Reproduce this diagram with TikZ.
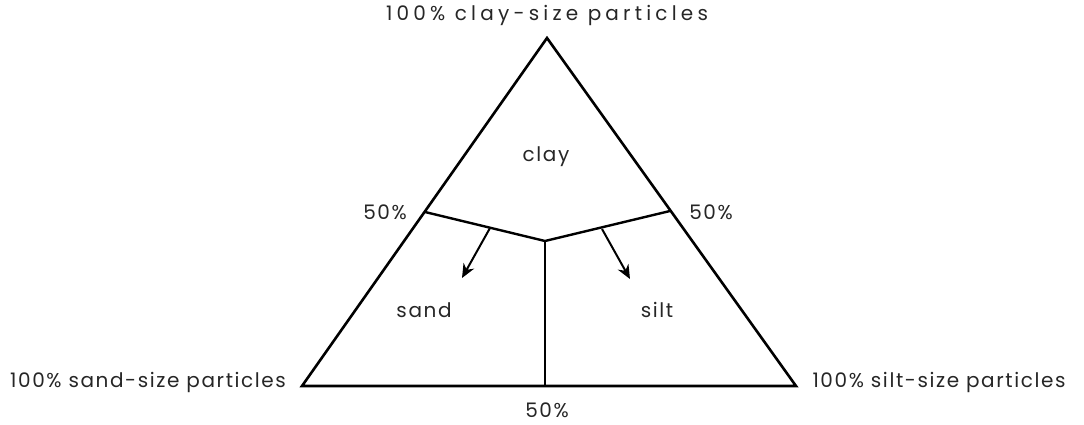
\documentclass[tikz,border=0pt]{standalone}
\usepackage{fontspec}
\setmainfont{Poppins}[LetterSpace=8]
\newfontfamily\widefont{Poppins}[LetterSpace=21]
\usetikzlibrary{arrows.meta}
\begin{document}
\begin{tikzpicture}[x=1pt,y=-1pt,
  edge/.style={line width=2.6pt, line join=miter},
  inner/.style={line width=2.4pt},
  arr/.style={line width=2pt,-{Stealth[length=14pt,width=12pt]}},
  lab/.style={font=\fontsize{20}{22}\selectfont, text=black!85, inner sep=0pt}]
\useasboundingbox (0,0) rectangle (1084,425);
\coordinate (A) at (547,38);
\coordinate (B) at (302,386);
\coordinate (C) at (796,386);
\coordinate (L) at (425,212);
\coordinate (R) at (670,211);
\coordinate (M) at (545,241);
\coordinate (D) at (545,386);
\coordinate (la) at (490,228);
\coordinate (lb) at (462,278);
\coordinate (ra) at (602,229);
\coordinate (rb) at (630,279);
\draw[edge] (A) -- (B) -- (C) -- cycle;
\draw[inner] (L) -- (M) -- (R);
\draw[inner] (M) -- (D);
\draw[arr] (la) -- (lb);
\draw[arr] (ra) -- (rb);
\node[lab, font=\widefont\fontsize{20}{22}\selectfont] (tA) at (547,15) {100\% clay-size particles};
\node[lab] (tB) at (148,382) {100\% sand-size particles};
\node[lab] (tC) at (939,382) {100\% silt-size particles};
\node[lab] (pL) at (385,212) {50\%};
\node[lab] (pR) at (711,212) {50\%};
\node[lab] (pD) at (547,410) {50\%};
\node[lab] (clay) at (546,157) {clay};
\node[lab] (sand) at (424,310) {sand};
\node[lab] (silt) at (657,310) {silt};
\end{tikzpicture}
\end{document}
